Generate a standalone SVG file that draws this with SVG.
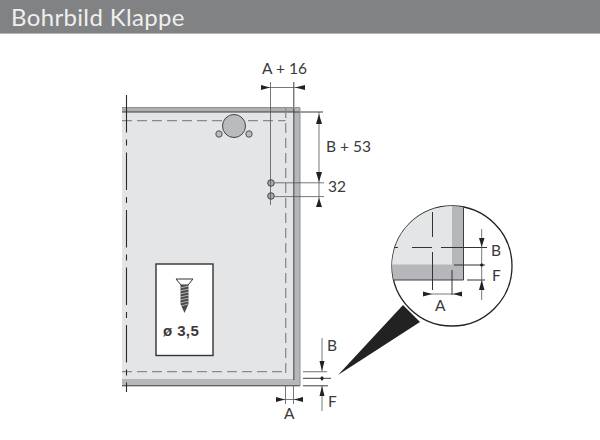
<svg xmlns="http://www.w3.org/2000/svg" width="600" height="440" viewBox="0 0 600 440">
<defs>
<style>
text{font-family:"Lato","Liberation Sans",sans-serif;fill:#3a3a3a;font-size:15.500px}
.l{fill:none;stroke:#3f3f3f;stroke-width:1}
.t{fill:none;stroke:#555;stroke-width:.8}
.d{fill:none;stroke:#8a8a8a;stroke-width:1.300;stroke-dasharray:10 5}
.a{fill:#222;stroke:none}
</style>
<clipPath id="c"><circle cx="452" cy="266" r="60"/></clipPath>
</defs>
<g id="header"><rect width="600" height="33" fill="#818284"/><rect y="33" width="600" height="1" fill="#b5b5b5"/>
<text x="11" y="26" style="font-size:24px;fill:#efefef;letter-spacing:.35px">Bohrbild Klappe</text></g>
<g id="panel">
<rect x="122" y="112" width="172" height="267" fill="#e4e5e7"/>
<rect x="122" y="107" width="178" height="5" fill="#adafb2"/>
<rect x="294" y="107" width="6" height="279" fill="#b5b7ba"/>
<rect x="122" y="379" width="178" height="7" fill="#b5b7ba"/>
<path class="l" d="M122 112H323M293.800 82V380M122 385.800H300"/>
<path d="M300 108V386M122 107.500H300" fill="none" stroke="#8e9093"/>
<path class="d" d="M122 120.700H222M248 120.700H285.500M285.700 108V376M122 371.700H285"/>
<path d="M126.500 95V392" fill="none" stroke="#2a2a2a" stroke-width="1.100" stroke-dasharray="37.500 7 6 7"/>
</g>
<g id="hinge-cup"><circle cx="234" cy="126" r="11.500" fill="#b9bbbe" stroke="#444"/><circle cx="219" cy="134" r="3.200" fill="#b9bbbe" stroke="#555"/><circle cx="249" cy="134" r="3.200" fill="#b9bbbe" stroke="#555"/></g>
<g id="drill-holes"><circle cx="271" cy="183" r="3.300" fill="#a8aaad" stroke="#444"/><circle cx="271" cy="196" r="3.300" fill="#a8aaad" stroke="#444"/></g>
<g id="screw-box">
<rect x="156" y="264" width="57" height="91.500" fill="#fff" stroke="#333" stroke-width="1.400"/>
<path d="M176 279H193L188 285H181Z" fill="#fff" stroke="#333"/>
<path d="M180.500 285H188.500V304L184.500 313L180.500 304Z" fill="#4a4a4a"/>
<path d="M180 288L189 286M180 291L189 289M180 294L189 292M180 297L189 295M180 300L189 298M180 303L189 301M181 306L188 304" stroke="#ccc" stroke-width=".8" fill="none"/>
<text x="163" y="336" style="font-size:15px;font-weight:bold;font-family:'Liberation Sans',sans-serif;letter-spacing:.4px">ø 3,5</text>
</g>
<g id="connectors">
<path class="t" d="M270.500 82V205M261 87.500H305M319 112V205M275 182.800H324M275 196.600H324"/>
<path class="a" d="M261 85L270 87.500L261 90ZM305 85L295 87.500L305 90ZM316 124H322L319 114ZM316 172H322L319 182ZM316 207H322L319 198Z"/>
<path d="M303 371.700H327" fill="none" stroke="#888" stroke-width="1.200"/>
<path class="l" d="M303 378.300H331M303 385.800H328"/>
<path class="t" d="M322 338V371M322 386V411M285.500 386V404M293.500 386V404M276 399.500H303"/>
<path class="a" d="M319.500 361H324.500L322 371ZM319.500 396H324.500L322 386ZM320 378.300L322 376L324 378.300L322 381ZM276 397L285 399.500L276 402ZM303 397L294 399.500L303 402Z"/>
</g>
<g id="pointer"><path d="M338 375L403 305L420 322Z" fill="#222"/></g>
<g id="detail">
<circle cx="452" cy="266" r="60" fill="#fff" stroke="#222" stroke-width="1.300"/>
<g clip-path="url(#c)">
<rect x="392" y="205" width="60" height="60" fill="#e4e5e7"/>
<path d="M452 205H463.500V280H392V264.500H452Z" fill="#b5b7ba"/>
<path class="l" d="M463.500 205V280H392" />
<path class="t" d="M432.500 212V237M432.500 252V290M452 270V295M392 247.500H398M412 247.500H432M441 247.500H487M454 265H485M467 280H485" style="stroke:#333;stroke-width:1"/>
</g>
<path class="t" d="M481.700 229V300M423 294H462"/>
<path class="a" d="M479 238H484.500L481.700 247ZM479 290H484.500L481.700 280ZM479.700 265L481.700 263L483.700 265L481.700 267ZM423 291.500L432 294L423 296.500ZM462 291.500L453 294L462 296.500Z"/>
</g>
<g id="labels">
<text x="262" y="74">A + 16</text>
<text x="326" y="152">B + 53</text>
<text x="328" y="192">32</text>
<text x="327" y="351">B</text>
<text x="328" y="407">F</text>
<text x="284" y="419">A</text>
<text x="491" y="256">B</text>
<text x="492" y="281">F</text>
<text x="435" y="311">A</text>
</g>
</svg>
